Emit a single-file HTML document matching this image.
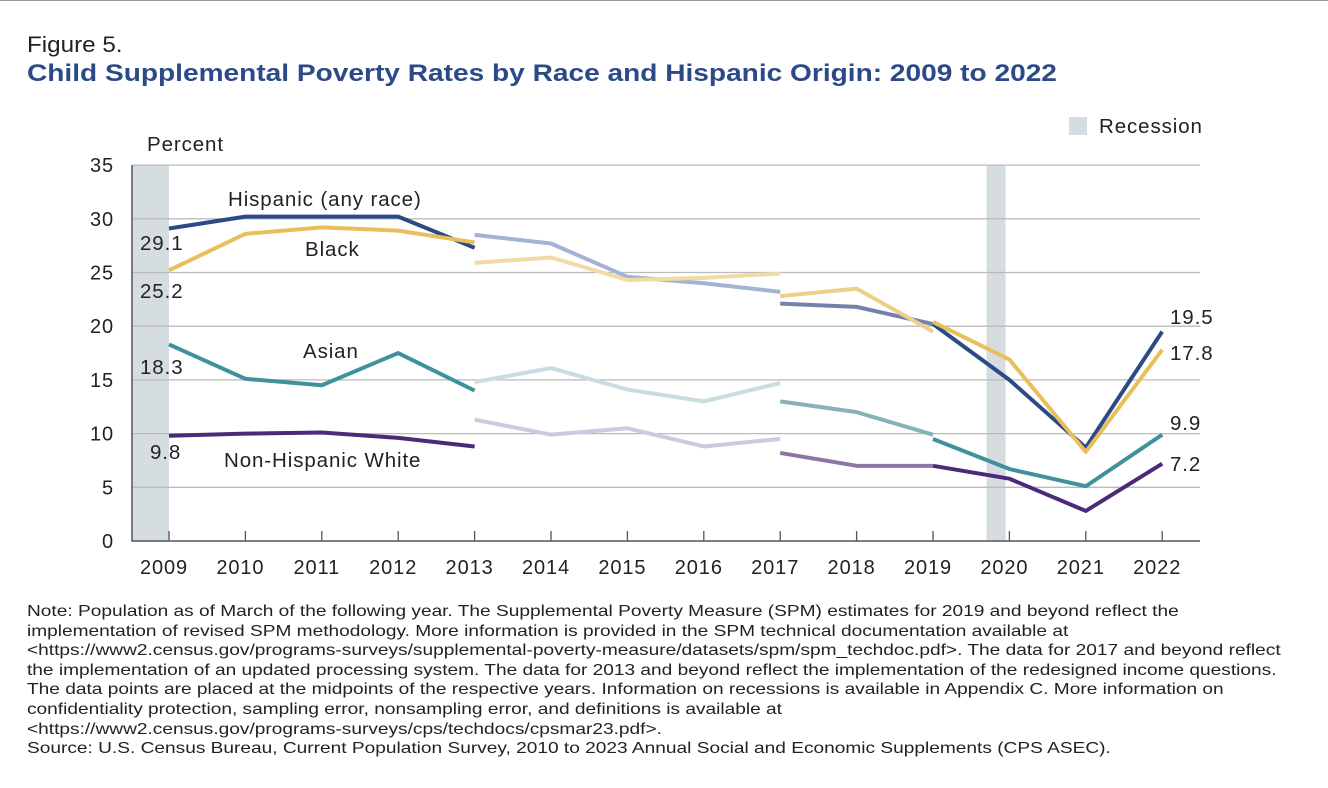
<!DOCTYPE html>
<html><head><meta charset="utf-8"><style>
body{margin:0;width:1328px;height:788px;background:#fff;font-family:"Liberation Sans",sans-serif;overflow:hidden;position:relative;color:#222}
.t{position:absolute;white-space:nowrap;transform-origin:left top}
#notes{position:absolute;left:27px;top:602px;font-size:15.6px;line-height:19.6px;color:#222;white-space:nowrap;transform:scaleX(1.225);transform-origin:left top}
</style></head><body>
<div style="position:absolute;left:0;top:0;width:1328px;height:1px;background:#999"></div>
<div class="t" style="left:27px;top:32px;font-size:22px;transform:scaleX(1.1)">Figure 5.</div>
<div class="t" style="left:27px;top:60px;font-size:24px;font-weight:bold;color:#2b4a87;transform:scaleX(1.17)">Child Supplemental Poverty Rates by Race and Hispanic Origin: 2009 to 2022</div>
<svg id="chart" width="1328" height="600" style="position:absolute;left:0;top:0" font-family="Liberation Sans, sans-serif" letter-spacing="0.9"></svg>
<div id="notes">Note: Population as of March of the following year. The Supplemental Poverty Measure (SPM) estimates for 2019 and beyond reflect the<br>implementation of revised SPM methodology. More information is provided in the SPM technical documentation available at<br>&lt;https://www2.census.gov/programs-surveys/supplemental-poverty-measure/datasets/spm/spm_techdoc.pdf&gt;. The data for 2017 and beyond reflect<br>the implementation of an updated processing system. The data for 2013 and beyond reflect the implementation of the redesigned income questions.<br>The data points are placed at the midpoints of the respective years. Information on recessions is available in Appendix C. More information on<br>confidentiality protection, sampling error, nonsampling error, and definitions is available at<br>&lt;https://www2.census.gov/programs-surveys/cps/techdocs/cpsmar23.pdf&gt;.<br>Source: U.S. Census Bureau, Current Population Survey, 2010 to 2023 Annual Social and Economic Supplements (CPS ASEC).</div>
<script>
const years=[2009,2010,2011,2012,2013,2014,2015,2016,2017,2018,2019,2020,2021,2022];
const yTicks=[0,5,10,15,20,25,30,35];
const recessions=[[2008.5,2009],[2019.7,2019.95]];
// segments: [startYear, values]
const hispanic=[[2009,[29.1,30.2,30.2,30.2,27.3]],[2013,[28.5,27.7,24.6,24.0,23.2]],[2017,[22.1,21.8,20.2]],[2019,[20.2,15.0,8.7,19.5]]];
const black=[[2009,[25.2,28.6,29.2,28.9,27.8]],[2013,[25.9,26.4,24.3,24.5,24.9]],[2017,[22.8,23.5,19.5]],[2019,[20.4,16.9,8.3,17.8]]];
const asian=[[2009,[18.3,15.1,14.5,17.5,14.0]],[2013,[14.8,16.1,14.1,13.0,14.7]],[2017,[13.0,12.0,9.9]],[2019,[9.5,6.7,5.1,9.9]]];
const white=[[2009,[9.8,10.0,10.1,9.6,8.8]],[2013,[11.3,9.9,10.5,8.8,9.5]],[2017,[8.2,7.0,7.0]],[2019,[7.0,5.8,2.8,7.2]]];
const series=[["hispanic",hispanic,["#2c4a86","#a3b3d6","#7580ad","#2c4a86"]],["black",black,["#e8bf5a","#f0dba5","#ecd08a","#e8bf5a"]],["asian",asian,["#3f929c","#c9dce0","#86b3b8","#3f929c"]],["white",white,["#4b2a7a","#c9cbe0","#8b76a8","#4b2a7a"]]];
const svg=document.getElementById('chart');const NS='http://www.w3.org/2000/svg';
const X=y=>169+(y-2009)*76.4, Y=v=>541-v*10.74;
function mk(t,a,p){const e=document.createElementNS(NS,t);for(const k in a)e.setAttribute(k,a[k]);(p||svg).appendChild(e);return e;}
recessions.forEach(r=>{const e=mk('rect',{x:Math.max(132,X(r[0])),y:Y(35),width:X(r[1])-Math.max(132,X(r[0])),height:Y(0)-Y(35),fill:'#d6dde1'});

});
yTicks.forEach(v=>{if(v>0){const l=mk('line',{x1:132,x2:1200,y1:Y(v),y2:Y(v),stroke:'#bbb','stroke-width':1.3});

}
const t=mk('text',{x:114,y:Y(v)+7,'text-anchor':'end','font-size':20,fill:'#222'});t.textContent=v;

});
const ax=mk('path',{d:`M132 ${Y(35)} V${Y(0)} H1200`,stroke:'#555','stroke-width':1.5,fill:'none'});


years.forEach(y=>{mk('line',{x1:X(y),x2:X(y),y1:Y(0)-10,y2:Y(0),stroke:'#555','stroke-width':1.3});
const t=mk('text',{x:X(y)-5,y:574,'text-anchor':'middle','font-size':20,fill:'#222'});t.textContent=y;

});
series.forEach(([name,segs,cols])=>{segs.forEach((s,i)=>{const pts=s[1].map((v,j)=>X(s[0]+j)+','+Y(v)).join(' ');
const p=mk('polyline',{points:pts,fill:'none',stroke:cols[i],'stroke-width':4,'stroke-linejoin':'round'});

});});
function lab(x,y,s,n,anchor){const t=mk('text',{x:x,y:y,'font-size':20.5,fill:'#222','text-anchor':anchor||'start'});t.textContent=s;

}
lab(147,151,'Percent','y-axis-title');
lab(228,206,'Hispanic (any race)','hispanic-label');
lab(305,256,'Black','black-label');
lab(303,358,'Asian','asian-label');
lab(224,467,'Non-Hispanic White','white-label');
lab(140,250,'29.1','hispanic-2009-value');
lab(140,298,'25.2','black-2009-value');
lab(140,374,'18.3','asian-2009-value');
lab(150,459,'9.8','white-2009-value');
lab(1170,324,'19.5','hispanic-2022-value');
lab(1170,360,'17.8','black-2022-value');
lab(1170,430,'9.9','asian-2022-value');
lab(1170,471,'7.2','white-2022-value');
const lr=mk('rect',{x:1069,y:117,width:18,height:18,fill:'#d6dde1'});


lab(1099,133,'Recession','legend-recession-label');
</script>
</body></html>
